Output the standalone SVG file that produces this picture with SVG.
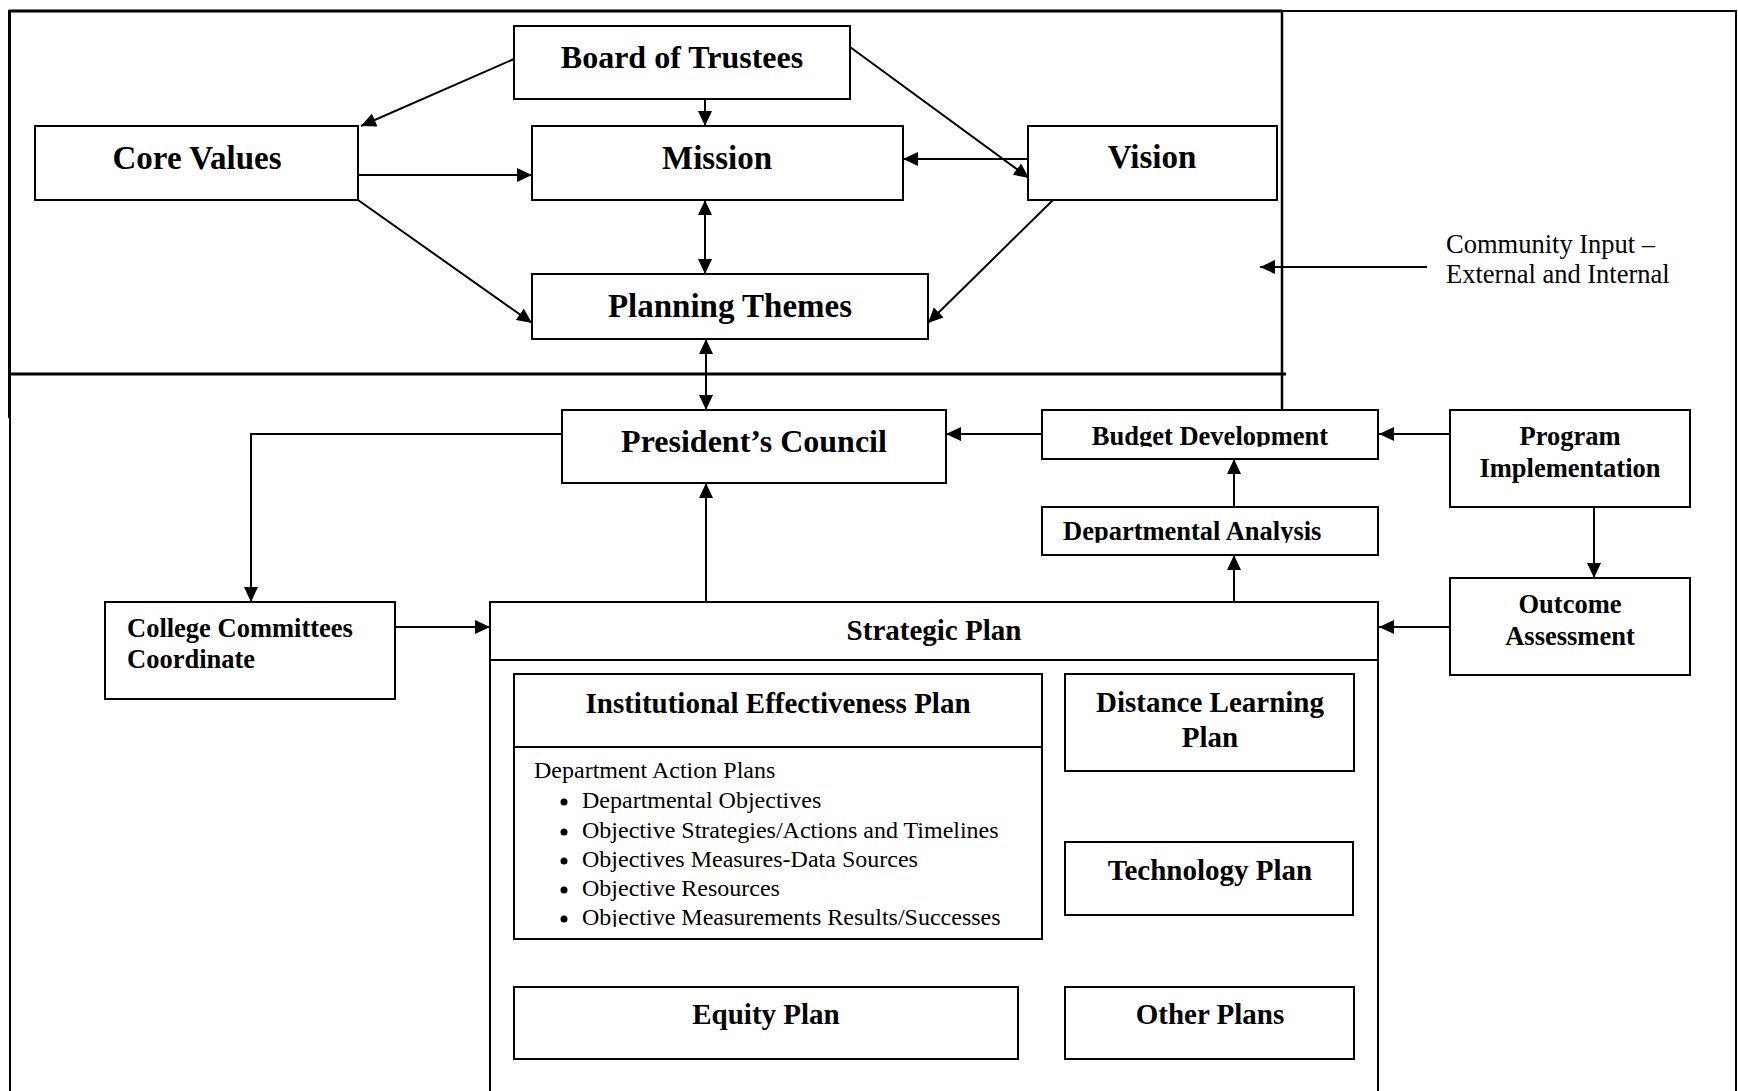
<svg xmlns="http://www.w3.org/2000/svg" width="1738" height="1091" viewBox="0 0 1738 1091">
<style>
.bx{fill:#fff;stroke:#000;stroke-width:2}
.fr{fill:none;stroke:#000}
.c{fill:none;stroke:#000;stroke-width:2}
.t{font-family:"Liberation Serif","Times New Roman",serif;fill:#000}
.b{font-weight:bold}
.m{text-anchor:middle}
.s33{font-size:33px}
.s32{font-size:32px}
.s29{font-size:29px}
.s26{font-size:26.5px}
.s24{font-size:24px}
</style>
<defs>
<marker id="ah" markerUnits="userSpaceOnUse" markerWidth="15" markerHeight="14" refX="15" refY="7" orient="auto-start-reverse">
<path d="M0,0 L15,7 L0,14 Z" fill="#000"/>
</marker>
<clipPath id="clipBudget"><rect x="1042" y="410" width="336" height="36.7"/></clipPath>
<clipPath id="clipDept"><rect x="1042" y="507" width="336" height="35.7"/></clipPath>
<clipPath id="clipList"><rect x="514" y="747" width="528" height="180"/></clipPath>
</defs>
<rect width="1738" height="1091" fill="#fff"/>
<g id="frame">
<line class="fr" x1="9" y1="11" x2="1282" y2="11" stroke-width="3"/>
<line class="fr" x1="1282" y1="11" x2="1736" y2="11" stroke-width="2"/>
<line class="fr" x1="9.5" y1="10" x2="9.5" y2="418" stroke-width="3"/>
<line class="fr" x1="10" y1="418" x2="10" y2="1091" stroke-width="2"/>
<line class="fr" x1="9" y1="374" x2="1286" y2="374" stroke-width="3"/>
<line class="fr" x1="1282" y1="11" x2="1282" y2="418" stroke-width="2.5"/>
<line class="fr" x1="1736" y1="10" x2="1736" y2="1091" stroke-width="2"/>
</g>
<g id="connectors">
<line class="c" x1="514" y1="59" x2="361" y2="126" marker-end="url(#ah)"/>
<line class="c" x1="705" y1="99" x2="705" y2="126" marker-end="url(#ah)"/>
<line class="c" x1="850" y1="47" x2="1029" y2="178" marker-end="url(#ah)"/>
<line class="c" x1="358" y1="175" x2="532" y2="175" marker-end="url(#ah)"/>
<line class="c" x1="358" y1="200" x2="532" y2="323" marker-end="url(#ah)"/>
<line class="c" x1="1028" y1="159" x2="903" y2="159" marker-end="url(#ah)"/>
<line class="c" x1="1053" y1="200" x2="928" y2="323" marker-end="url(#ah)"/>
<line class="c" x1="705" y1="200" x2="705" y2="274" marker-start="url(#ah)" marker-end="url(#ah)"/>
<line class="c" x1="706" y1="339" x2="706" y2="410" marker-start="url(#ah)" marker-end="url(#ah)"/>
<polyline class="c" points="562,434 251,434 251,602" marker-end="url(#ah)"/>
<line class="c" x1="706" y1="602" x2="706" y2="483" marker-end="url(#ah)"/>
<line class="c" x1="395" y1="627" x2="490" y2="627" marker-end="url(#ah)"/>
<line class="c" x1="1042" y1="434" x2="946" y2="434" marker-end="url(#ah)"/>
<line class="c" x1="1450" y1="434" x2="1379" y2="434" marker-end="url(#ah)"/>
<line class="c" x1="1234" y1="507" x2="1234" y2="459" marker-end="url(#ah)"/>
<line class="c" x1="1234" y1="602" x2="1234" y2="555" marker-end="url(#ah)"/>
<line class="c" x1="1594" y1="507" x2="1594" y2="578" marker-end="url(#ah)"/>
<line class="c" x1="1450" y1="627" x2="1379" y2="627" marker-end="url(#ah)"/>
<line class="c" x1="1427" y1="267" x2="1260" y2="267" marker-end="url(#ah)"/>
</g>
<g id="board">
<rect class="bx" x="514" y="26" width="336" height="73"/>
<text class="t b m s32" x="682" y="68">Board of Trustees</text>
</g>
<g id="core-values">
<rect class="bx" x="35" y="126" width="323" height="74"/>
<text class="t b m s33" x="197" y="169">Core Values</text>
</g>
<g id="mission">
<rect class="bx" x="532" y="126" width="371" height="74"/>
<text class="t b m s33" x="717" y="169">Mission</text>
</g>
<g id="vision">
<rect class="bx" x="1028" y="126" width="249" height="74"/>
<text class="t b m s33" x="1152" y="168">Vision</text>
</g>
<g id="planning-themes">
<rect class="bx" x="532" y="274" width="396" height="65"/>
<text class="t b m s33" x="730" y="317">Planning Themes</text>
</g>
<g id="community-input">
<text class="t s26" x="1446" y="253">Community Input –</text>
<text class="t s26" x="1446" y="283">External and Internal</text>
</g>
<g id="presidents-council">
<rect class="bx" x="562" y="410" width="384" height="73"/>
<text class="t b m s32" x="754" y="452">President’s Council</text>
</g>
<g id="budget-development">
<rect class="bx" x="1042" y="410" width="336" height="49"/>
<text class="t b m s26" x="1210" y="445" clip-path="url(#clipBudget)">Budget Development</text>
</g>
<g id="departmental-analysis">
<rect class="bx" x="1042" y="507" width="336" height="48"/>
<text class="t b s26" x="1063" y="540" clip-path="url(#clipDept)">Departmental Analysis</text>
</g>
<g id="program-implementation">
<rect class="bx" x="1450" y="410" width="240" height="97"/>
<text class="t b m s26" x="1570" y="445">Program</text>
<text class="t b m s26" x="1570" y="477">Implementation</text>
</g>
<g id="outcome-assessment">
<rect class="bx" x="1450" y="578" width="240" height="97"/>
<text class="t b m s26" x="1570" y="613">Outcome</text>
<text class="t b m s26" x="1570" y="645">Assessment</text>
</g>
<g id="college-committees">
<rect class="bx" x="105" y="602" width="290" height="97"/>
<text class="t b s26" x="127" y="637">College Committees</text>
<text class="t b s26" x="127" y="668">Coordinate</text>
</g>
<g id="strategic-plan">
<path class="bx" d="M490,1095 L490,602 L1378,602 L1378,1095"/>
<line class="c" x1="490" y1="660" x2="1378" y2="660"/>
<text class="t b m s29" x="934" y="640">Strategic Plan</text>
</g>
<g id="institutional-effectiveness-plan">
<rect class="bx" x="514" y="674" width="528" height="265"/>
<line class="c" x1="514" y1="747" x2="1042" y2="747"/>
<text class="t b m s29" x="778" y="713">Institutional Effectiveness Plan</text>
<g clip-path="url(#clipList)">
<text class="t s24" x="534" y="778">Department Action Plans</text>
<circle cx="564" cy="802" r="3.5"/>
<text class="t s24" x="582" y="808">Departmental Objectives</text>
<circle cx="564" cy="832" r="3.5"/>
<text class="t s24" x="582" y="838">Objective Strategies/Actions and Timelines</text>
<circle cx="564" cy="861" r="3.5"/>
<text class="t s24" x="582" y="867">Objectives Measures-Data Sources</text>
<circle cx="564" cy="890" r="3.5"/>
<text class="t s24" x="582" y="896">Objective Resources</text>
<circle cx="564" cy="919" r="3.5"/>
<text class="t s24" x="582" y="925">Objective Measurements Results/Successes</text>
</g>
</g>
<g id="distance-learning-plan">
<rect class="bx" x="1065" y="674" width="289" height="97"/>
<text class="t b m s29" x="1210" y="712">Distance Learning</text>
<text class="t b m s29" x="1210" y="747">Plan</text>
</g>
<g id="technology-plan">
<rect class="bx" x="1065" y="842" width="288" height="73"/>
<text class="t b m s29" x="1210" y="880">Technology Plan</text>
</g>
<g id="equity-plan">
<rect class="bx" x="514" y="987" width="504" height="72"/>
<text class="t b m s29" x="766" y="1024">Equity Plan</text>
</g>
<g id="other-plans">
<rect class="bx" x="1065" y="987" width="289" height="72"/>
<text class="t b m s29" x="1210" y="1024">Other Plans</text>
</g>
</svg>
